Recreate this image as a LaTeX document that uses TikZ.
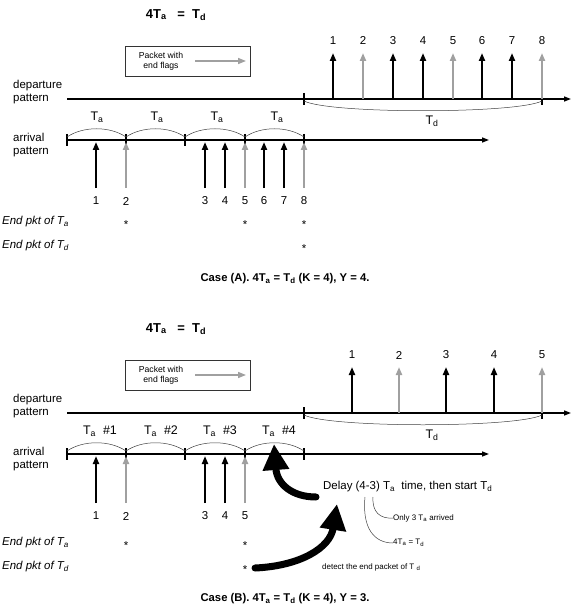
\documentclass[tikz,border=0pt]{standalone}
\usepackage{fontspec}
\setmainfont{Liberation Sans}
\usetikzlibrary{arrows.meta}
\definecolor{pg}{RGB}{160,160,160}
\begin{document}
\begin{tikzpicture}[x=1bp,y=-1bp,
 base/.style={inner sep=0pt, font=\fontsize{11.5}{13}\selectfont},
 ttl/.style={inner sep=0pt, font=\fontsize{13}{15}\selectfont\bfseries},
 capt/.style={inner sep=0pt, font=\fontsize{11.3}{13}\selectfont\bfseries},
 leg/.style={inner sep=0pt, font=\fontsize{8.7}{10}\selectfont, align=center},
 side/.style={inner sep=0pt, anchor=west, align=left, font=\fontsize{11.5}{12.5}\selectfont},
 endl/.style={inner sep=0pt, anchor=west, font=\fontsize{11.5}{13}\selectfont\itshape},
 tlab/.style={inner sep=0pt, font=\fontsize{12.5}{14}\selectfont},
 small/.style={inner sep=0pt, anchor=west, font=\fontsize{8}{9}\selectfont},
 axis/.style={line width=1.3bp, -{Triangle[length=7bp,width=5bp]}},
 pk/.style={line width=2.1bp, -{Triangle[length=8bp,width=6bp]}},
 pkgray/.style={pk, draw=pg, color=pg},
 tk/.style={line width=1.1bp},
 brace/.style={line width=0.5bp, draw=black!75},
 legbox/.style={line width=0.7bp, draw=black!80},
 bigarr/.style={line width=7bp, line cap=round, -{Triangle[length=26bp,width=25bp]}},
]
\useasboundingbox (0,0) rectangle (578,605);

% ---------- common parts of both panels ----------
\foreach \o/\p in {0/A,314/B} {
  \node[ttl] (title\p) at (176,15+\o) {4T\textsubscript{a}\ \ \ =\ \ T\textsubscript{d}};
  \draw[legbox] (125,46+\o) rectangle (250,76+\o);
  \node[leg] (leg\p) at (161,61+\o) {Packet with\\end flags};
  \coordinate (lga\p) at (195,61+\o);
  \coordinate (lgb\p) at (246,61+\o);
  \draw[pkgray, line width=1.5bp] (lga\p) -- (lgb\p);
  % departure
  \node[side] (dep\p) at (13,92+\o) {departure\\pattern};
  \coordinate (ds\p) at (67,99+\o);
  \coordinate (de\p) at (571,99+\o);
  \draw[axis] (ds\p) -- (de\p);
  \draw[tk] (304,93+\o) -- (304,105+\o);
  \draw[tk] (542,99+\o) -- (542,105+\o);
  \draw[brace] (304,101+\o) .. controls (330,114+\o) and (516,114+\o) .. (542,101+\o);
  \node[tlab] (td\p) at (432,121+\o) {T\textsubscript{d}};
  % arrival
  \node[side] (arr\p) at (13,145+\o) {arrival\\pattern};
  \coordinate (as\p) at (67,140+\o);
  \coordinate (ae\p) at (489,140+\o);
  \draw[axis] (as\p) -- (ae\p);
  \foreach \x in {67,126,185,245,304} \draw[tk] (\x,134+\o) -- (\x,146+\o);
  \foreach \a/\b in {67/126,126/185,185/245,245/304}
    \draw[brace] (\a,137+\o) .. controls (\a+16,126+\o) and (\b-16,126+\o) .. (\b,137+\o);
}

% ---------- Case (A) ----------
\foreach \x/\n in {97/1,157/2,217/3,277/4}
  \node[tlab] (taA\n) at (\x,117) {T\textsubscript{a}};
\foreach \x/\n/\s in {333/1/pk,363/2/pkgray,393/3/pk,423/4/pk,453/5/pkgray,482/6/pk,512/7/pk,542/8/pkgray} {
  \node[base] (dnA\n) at (\x,41) {\n};
  \draw[\s] (\x,99) -- (\x,53);
}
\foreach \x/\n/\s in {96/1/pk,126/2/pkgray,205/3/pk,225/4/pk,245/5/pkgray,264/6/pk,284/7/pk,304/8/pkgray} {
  \node[base] (anA\n) at (\x,201) {\n};
  \draw[\s] (\x,188) -- (\x,142);
}
\node[endl] (eaA) at (2,222) {End pkt of T\textsubscript{a}};
\node[endl] (edA) at (2,246) {End pkt of T\textsubscript{d}};
\foreach \x/\n in {126/1,245/2,304/3} \node[base] (saA\n) at (\x,225) {*};
\node[base] (sdA) at (304,249) {*};
\node[capt] (capA) at (285,279) {Case (A). 4T\textsubscript{a} = T\textsubscript{d} (K = 4), Y = 4.};

% ---------- Case (B) ----------
\foreach \x/\n in {100/1,161/2,220/3,279/4}
  \node[tlab] (taB\n) at (\x,431) {T\textsubscript{a}\ \ \#\n};
\foreach \x/\n/\s in {352/1/pk,399/2/pkgray,446/3/pk,494/4/pk,542/5/pkgray} {
  \node[base] (dnB\n) at (\x,355) {\n};
  \draw[\s] (\x,413) -- (\x,367);
}
\foreach \x/\n/\s in {96/1/pk,126/2/pkgray,205/3/pk,225/4/pk,245/5/pkgray} {
  \node[base] (anB\n) at (\x,516) {\n};
  \draw[\s] (\x,503) -- (\x,456);
}
\node[endl] (eaB) at (2,543) {End pkt of T\textsubscript{a}};
\node[endl] (edB) at (2,567) {End pkt of T\textsubscript{d}};
\foreach \x/\n in {126/1,245/2} \node[base] (saB\n) at (\x,546) {*};
\node[base] (sdB) at (245,570) {*};

\node[base, anchor=west] (delay) at (323,487) {Delay (4-3) T\textsubscript{a}\ \ time, then start T\textsubscript{d}};
\node[small] (only) at (393,518) {Only 3 T\textsubscript{a}\ arrived};
\node[small] (eq) at (393,543) {4T\textsubscript{a} = T\textsubscript{d}};
\node[small] (detect) at (322,567) {detect the end packet of T\ \textsubscript{d}};
\draw[brace] (373,497) .. controls (372,512) and (380,519) .. (only.west);
\draw[brace] (365,497) .. controls (362,528) and (374,543) .. (eq.west);

\coordinate (b1s) at (316,497);
\coordinate (b1e) at (274,444);
\draw[bigarr] (b1s) .. controls (292,497) and (277,484) .. (b1e);
\coordinate (b2s) at (255,568);
\coordinate (b2e) at (337,504);
\draw[bigarr] (b2s) .. controls (300,566) and (330,548) .. (b2e);

\node[capt] (capB) at (285,599) {Case (B). 4T\textsubscript{a} = T\textsubscript{d} (K = 4), Y = 3.};
\end{tikzpicture}
\end{document}
